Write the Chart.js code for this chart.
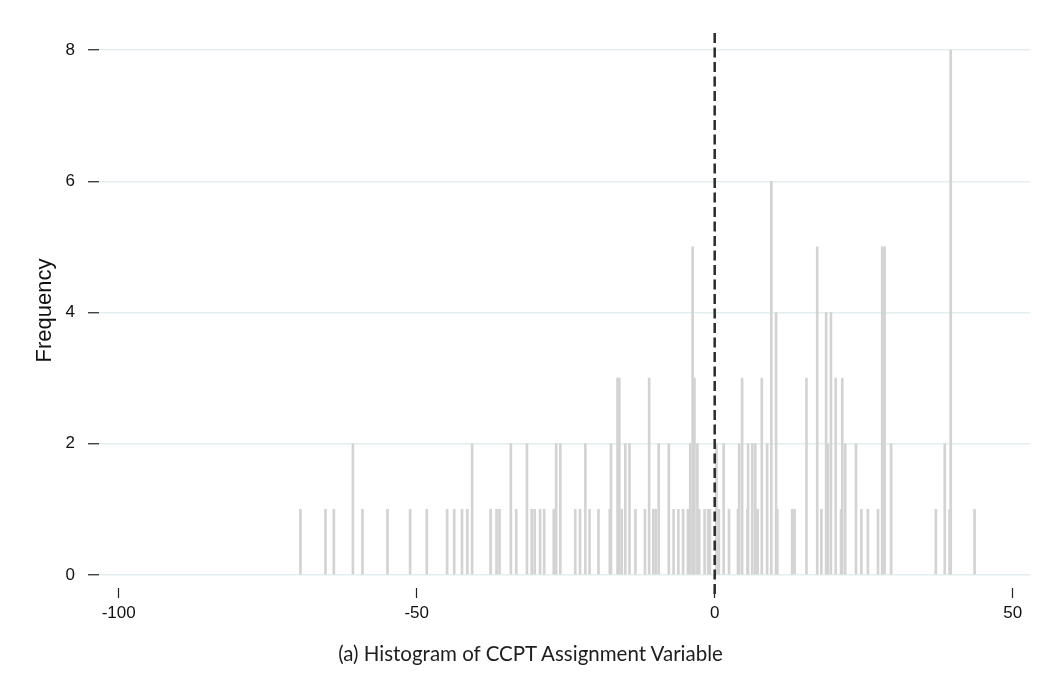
<!DOCTYPE html>
<html>
<head>
<meta charset="utf-8">
<title>Histogram of CCPT Assignment Variable</title>
<script src="https://cdn.jsdelivr.net/npm/chart.js@4.4.1/dist/chart.umd.min.js"></script>
<style>
    html, body { margin: 0; padding: 0; background: #fff; }
    .frame { position: relative; width: 1061px; height: 698px; overflow: hidden; }
    #histChart { position: absolute; left: 0; top: 0; }
    .caption {
        position: absolute; left: 0; width: 1061px; top: 641px;
        text-align: center; font-family: Lato, "Open Sans", sans-serif;
        font-size: 20.5px; color: #1e1e1e;
    }
</style>
</head>
<body>
<div class="frame">
    <canvas id="histChart" width="1061" height="698"></canvas>
    <div class="caption">(a) Histogram of CCPT Assignment Variable</div>
</div>
<script>
// Histogram bins (assignment variable) and their frequencies
const binCenters = [
    -69.5, -65.3, -63.9, -60.7, -59.1, -54.9, -51.1, -48.3, -44.9, -43.7,
    -42.4, -41.5, -40.7, -37.6, -36.6, -36.1, -34.2, -33.3, -31.5, -30.7,
    -30.2, -29.3, -28.6, -27.0, -26.6, -25.9, -23.4, -22.6, -21.7, -21.0,
    -19.5, -17.6, -17.4, -16.3, -16.0, -15.6, -15.0, -14.3, -13.3, -11.7,
    -11.0, -10.3, -9.9, -9.4, -7.7, -6.9, -6.1, -5.3, -4.5, -4.1,
    -3.7, -3.4, -2.9, -2.6, -1.7, -1.1, -0.8, 0.3, 0.7, 1.5,
    2.4, 3.9, 4.1, 4.6, 5.5, 5.6, 6.3, 6.8, 7.2, 7.9,
    8.8, 9.5, 10.3, 10.5, 13.0, 13.4, 15.4, 17.2, 17.9, 18.7,
    19.0, 19.5, 20.3, 21.2, 21.4, 21.9, 23.7, 24.6, 25.7, 27.4,
    28.1, 28.5, 29.6, 37.1, 38.6, 39.4, 39.6, 43.6
];
const frequencies = [
    1, 1, 1, 2, 1, 1, 1, 1, 1, 1,
    1, 1, 2, 1, 1, 1, 2, 1, 2, 1,
    1, 1, 1, 1, 2, 2, 1, 1, 2, 1,
    1, 1, 2, 3, 3, 1, 2, 2, 1, 1,
    3, 1, 1, 2, 2, 1, 1, 1, 1, 2,
    5, 3, 2, 1, 1, 1, 1, 2, 1, 2,
    1, 1, 2, 3, 1, 2, 2, 2, 1, 3,
    2, 6, 4, 1, 1, 1, 3, 5, 1, 4,
    2, 4, 3, 1, 3, 2, 2, 1, 1, 1,
    5, 5, 2, 1, 2, 1, 8, 1
];
const xTicks = [-100, -50, 0, 50];
const yTicks = [0, 2, 4, 6, 8];
const cutoff = 0;

const axisFont = { family: '"Liberation Sans", Arial, sans-serif', size: 17 };

// Vertical dashed reference line at the cutoff
const cutoffLine = {
    id: 'cutoffLine',
    afterDatasetsDraw(chart) {
        const { ctx, chartArea, scales } = chart;
        const x = scales.x.getPixelForValue(cutoff);
        ctx.save();
        ctx.strokeStyle = '#2b2b2b';
        ctx.lineWidth = 2.5;
        ctx.setLineDash([10, 4.5]);
        ctx.beginPath();
        ctx.moveTo(x, chartArea.top);
        ctx.lineTo(x, chartArea.bottom + 8);
        ctx.stroke();
        ctx.restore();
    }
};

document.addEventListener('DOMContentLoaded', () => {
    const ctx = document.getElementById('histChart');

    new Chart(ctx, {
        type: 'bar',
        data: {
            datasets: [{
                data: binCenters.map((x, i) => ({ x: x, y: frequencies[i] })),
                backgroundColor: '#d3d3d3',
                borderWidth: 0,
                barThickness: 2,
                grouped: false
            }]
        },
        options: {
            responsive: false,
            animation: false,
            layout: { padding: { top: 33, right: 31, left: 0, bottom: 0 } },
            plugins: {
                legend: { display: false },
                tooltip: { enabled: false }
            },
            scales: {
                x: {
                    type: 'linear',
                    min: -103.3,
                    max: 52.9,
                    offset: false,
                    afterBuildTicks: scale => { scale.ticks = xTicks.map(v => ({ value: v })); },
                    afterFit: scale => { scale.height = 110; },
                    border: { display: false },
                    grid: {
                        offset: false,
                        drawOnChartArea: false,
                        drawTicks: true,
                        tickLength: 10,
                        tickColor: '#222',
                        tickWidth: 1.2
                    },
                    ticks: { color: '#111', font: axisFont, padding: 5, maxRotation: 0 }
                },
                y: {
                    min: -0.2,
                    max: 8.26,
                    afterBuildTicks: scale => { scale.ticks = yTicks.map(v => ({ value: v })); },
                    afterFit: scale => { scale.width = 99; },
                    border: { display: false },
                    grid: {
                        color: '#e3eef0',
                        lineWidth: 1.5,
                        tickLength: 11,
                        tickColor: '#222',
                        tickWidth: 1.2
                    },
                    ticks: { color: '#111', font: axisFont, padding: 13 },
                    title: {
                        display: true,
                        text: 'Frequency',
                        color: '#111',
                        font: { family: '"Liberation Sans", Arial, sans-serif', size: 22 },
                        padding: { top: 32, bottom: 0 }
                    }
                }
            }
        },
        plugins: [cutoffLine]
    });
});
</script>
</body>
</html>
